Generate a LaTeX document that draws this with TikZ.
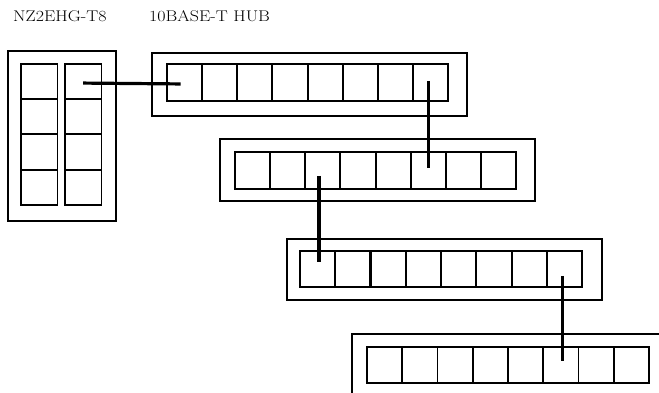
\documentclass[tikz,border=0pt]{standalone}
\usetikzlibrary{calc}
\begin{document}
\begin{tikzpicture}[x=1pt,y=-1pt,
  thin/.style={line width=1.9pt},
  cell/.style={draw,thin,inner sep=0pt,anchor=north west,minimum width=35.15pt,minimum height=37pt},
  pcell/.style={draw,thin,inner sep=0pt,anchor=north west,minimum width=36.5pt,minimum height=35.25pt},
  outer/.style={draw,thin,inner sep=0pt,anchor=north west},
  link/.style={line width=3.2pt},
  lbl/.style={anchor=base west,inner sep=0pt,font=\fontsize{15.5}{18}\selectfont,xscale=1.16}]
\useasboundingbox (0,0) rectangle (659,393);
% labels
\node[lbl] (t1) at (13,22) {NZ2EHG-T8};
\node[lbl] (t2) at (149,22) {10BASE-T HUB};
% NZ2EHG-T8 unit
\node[outer,minimum width=108pt,minimum height=170pt] (nz) at (7,50) {};
\foreach \r in {1,...,4}{
  \node[pcell] (pa\r) at (20,{63+(\r-1)*35.25}) {};
  \node[pcell] (pb\r) at (64,{63+(\r-1)*35.25}) {};
}
% hub 1
\node[outer,minimum width=315pt,minimum height=63pt] (o1) at (151,52) {};
\foreach \i in {1,...,8} \node[cell] (a\i) at ({166+(\i-1)*35.15},63) {};
% hub 2
\node[outer,minimum width=315pt,minimum height=62pt] (o2) at (219,138) {};
\foreach \i in {1,...,8} \node[cell] (b\i) at ({234+(\i-1)*35.15},151) {};
% hub 3
\node[outer,minimum width=315pt,minimum height=61pt] (o3) at (286,238) {};
\foreach \i in {1,...,8} \node[cell,minimum height=36pt] (c\i) at ({299+(\i-1)*35.3},250) {};
% hub 4 (cut off)
\coordinate (o4r) at (661,334);
\coordinate (o4c) at (352,334);
\coordinate (o4b) at (352,395);
\draw[thin] (o4r) -- (o4c) -- (o4b);
\foreach \i in {1,...,8} \node[cell,minimum width=35.25pt,minimum height=36pt] (d\i) at ({366+(\i-1)*35.25},346) {};
% connectors
\coordinate (s1) at ($(pb1.center)+(0,1.5)$);
\coordinate (e1) at ($(a1.center)+(-4,1.5)$);
\draw[link] (s1) -- (e1);
\coordinate (s2) at ($(b6.center)+(0,-89.5)$);
\coordinate (e2) at ($(b6.center)+(0,-2.5)$);
\draw[link] (s2) -- (e2);
\coordinate (s3) at ($(c1.center)+(1.5,-93)$);
\coordinate (e3) at ($(c1.center)+(1.5,-7)$);
\draw[link] (s3) -- (e3);
\coordinate (s4) at ($(d6.center)+(1.5,-89)$);
\coordinate (e4) at ($(d6.center)+(1.5,-4)$);
\draw[link] (s4) -- (e4);
\end{tikzpicture}
\end{document}
